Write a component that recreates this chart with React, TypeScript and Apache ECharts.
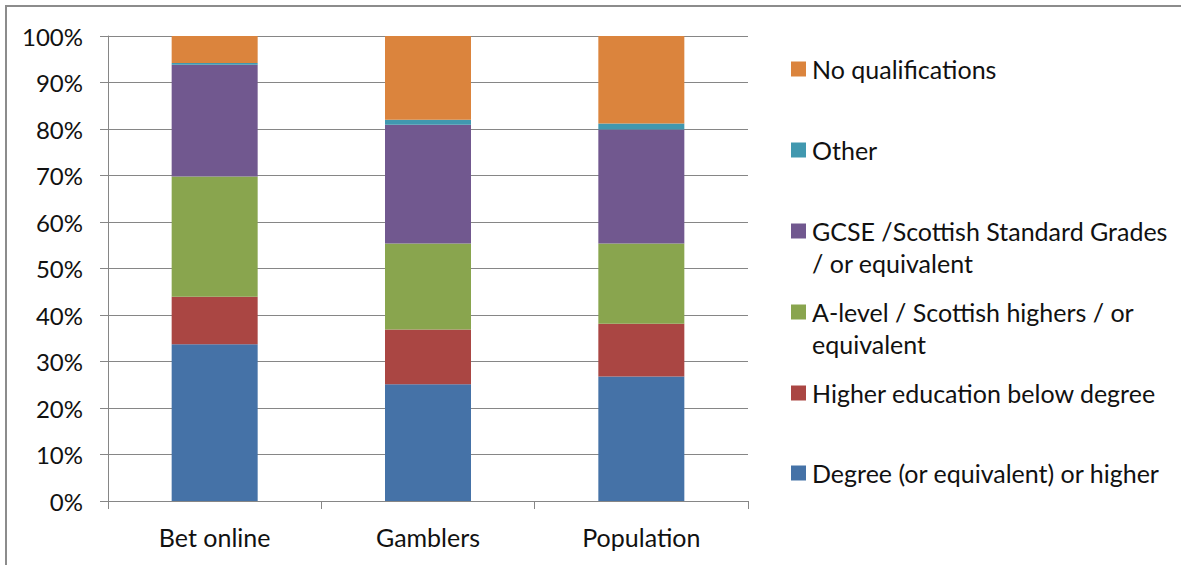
import React, { useEffect, useRef } from "react";
import * as echarts from "echarts";

// Qualification mix by group (percent of each column)
const categories = ["Bet online", "Gamblers", "Population"];
const degree = [33.7, 25.1, 26.8];
const higherBelowDegree = [10.2, 11.8, 11.3];
const aLevel = [25.9, 18.5, 17.3];
const gcse = [24.0, 25.5, 24.5];
const other = [0.4, 1.1, 1.3];
const noQualifications = [5.8, 18.0, 18.8];

const seriesNames = [
  "Degree (or equivalent) or higher",
  "Higher education below degree",
  "A-level / Scottish highers / or\nequivalent",
  "GCSE /Scottish Standard Grades\n/ or equivalent",
  "Other",
  "No qualifications",
];
const seriesValues = [degree, higherBelowDegree, aLevel, gcse, other, noQualifications];
const seriesColors = ["#4572A7", "#AA4643", "#89A54E", "#71588F", "#4198AF", "#DB843D"];
const yTicks = [0, 10, 20, 30, 40, 50, 60, 70, 80, 90, 100];

// Legend row centres (first line), top entry first
const legendRowY = [69, 150, 231, 312, 393, 473];

const FONT = "Lato, 'Noto Sans', sans-serif";
const TEXT_COLOR = "#111111";

export default function App() {
  const ref = useRef<HTMLDivElement>(null);

  useEffect(() => {
    if (!ref.current) return;
    const chart = echarts.init(ref.current, null, { renderer: "svg" });

    const legendOrder = seriesNames.map((_, i) => i).reverse();
    const legendGraphics: any[] = [];
    legendOrder.forEach((si, row) => {
      const cy = legendRowY[row];
      legendGraphics.push({
        type: "rect",
        shape: { x: 791, y: cy - 7.5, width: 15, height: 15 },
        style: { fill: seriesColors[si] },
      });
      legendGraphics.push({
        type: "text",
        x: 812,
        y: cy - 16,
        style: {
          text: seriesNames[si],
          font: `25px ${FONT}`,
          fill: TEXT_COLOR,
          lineHeight: 32,
          verticalAlign: "top",
          align: "left",
        },
      });
    });

    chart.setOption({
      animation: false,
      backgroundColor: "#ffffff",
      grid: { left: 108, top: 36, width: 640, height: 465, containLabel: false },
      xAxis: {
        type: "category",
        data: categories,
        axisLine: { show: true, lineStyle: { color: "#868686", width: 1 } },
        axisTick: { show: true, length: 8, lineStyle: { color: "#868686" } },
        axisLabel: {
          margin: 23,
          fontFamily: FONT,
          fontSize: 25,
          color: TEXT_COLOR,
        },
        splitLine: { show: false },
      },
      yAxis: {
        type: "value",
        min: yTicks[0],
        max: yTicks[yTicks.length - 1],
        interval: 10,
        axisLine: { show: true, lineStyle: { color: "#868686", width: 1 } },
        axisTick: { show: true, length: 8, lineStyle: { color: "#868686" } },
        axisLabel: {
          margin: 25,
          formatter: "{value}%",
          fontFamily: FONT,
          fontSize: 24,
          color: TEXT_COLOR,
        },
        splitLine: { show: true, lineStyle: { color: "#868686", width: 1 } },
      },
      series: seriesNames.map((name, i) => ({
        name,
        type: "bar",
        stack: "total",
        barWidth: 86,
        data: seriesValues[i],
        itemStyle: { color: seriesColors[i] },
      })),
      graphic: [
        {
          type: "rect",
          shape: { x: 6, y: 6, width: 1200, height: 600 },
          style: { fill: "none", stroke: "#8c8c8c", lineWidth: 2 },
          silent: true,
        },
        ...legendGraphics,
      ],
    });

    return () => chart.dispose();
  }, []);

  return (
    <div
      ref={ref}
      style={{ position: "absolute", left: 0, top: 0, width: 1181, height: 565 }}
    />
  );
}
